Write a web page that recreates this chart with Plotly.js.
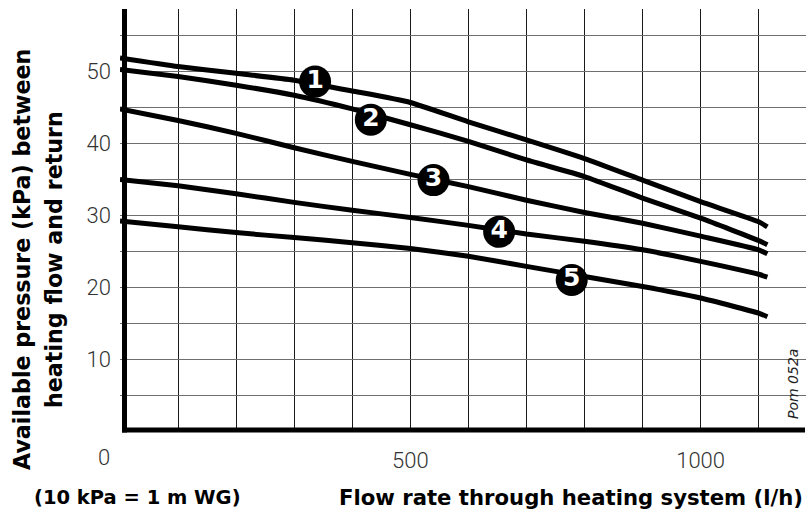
<!DOCTYPE html>
<html>
<head>
<meta charset="utf-8">
<script src="https://cdn.plot.ly/plotly-3.0.1.min.js"></script>
<style>
  html, body { margin: 0; padding: 0; background: #fff; }
  #chart { width: 812px; height: 512px; }
</style>
</head>
<body>
<div id="chart"></div>
<script>
// Flow rate (l/h)
const flow = [0, 100, 200, 300, 400, 500, 600, 700, 800, 900, 1000, 1100, 1115];
// Available pressure (kPa) for pump settings 1..5
const curve1 = [51.9, 50.7, 49.75, 48.8, 47.3, 45.7, 43.0, 40.5, 37.9, 34.9, 31.9, 29.1, 28.4];
const curve2 = [50.3, 49.3, 48.1, 46.7, 44.8, 42.6, 40.3, 37.7, 35.4, 32.4, 29.6, 26.5, 25.9];
const curve3 = [44.8, 43.2, 41.4, 39.4, 37.5, 35.7, 34.0, 32.1, 30.4, 28.9, 27.1, 25.2, 24.65];
const curve4 = [35.0, 34.1, 33.0, 31.8, 30.7, 29.7, 28.6, 27.4, 26.4, 25.2, 23.6, 21.8, 21.4];
const curve5 = [29.2, 28.4, 27.6, 26.9, 26.2, 25.4, 24.3, 22.9, 21.5, 20.1, 18.5, 16.4, 15.9];

// Curve number badges
const labelText = ['1', '2', '3', '4', '5'];
const labelX = [336, 432, 540, 653, 778];
const labelY = [48.6, 43.3, 34.9, 27.7, 21.0];

// Axis ticks
const xTickVals = [100, 200, 300, 400, 500, 600, 700, 800, 900, 1000, 1100];
const xTickText = ['', '', '', '', '500', '', '', '', '', '1000', ''];
const yTickVals = [5, 10, 15, 20, 25, 30, 35, 40, 45, 50, 55];
const yTickText = ['', '10', '', '20', '', '30', '', '40', '', '50', ''];
const originLabel = '0';

const xTitle = 'Flow rate through heating system (l/h)';
const yTitle1 = 'Available pressure (kPa) between';
const yTitle2 = 'heating flow and return';
const unitNote = '(10 kPa = 1 m WG)';
const figCode = 'Pom 052a';

const curves = [curve1, curve2, curve3, curve4, curve5];
const traces = curves.map((c, i) => ({
  type: 'scatter', mode: 'lines', x: flow, y: c,
  line: { color: '#000', width: 5, shape: 'spline', smoothing: 0.5 },
  hoverinfo: 'skip', showlegend: false, cliponaxis: true
}));
traces.push({
  type: 'scatter', mode: 'markers+text', x: labelX, y: labelY, text: labelText,
  textposition: 'middle center',
  textfont: { family: 'DejaVu Sans', size: 25, color: '#fff', weight: 'bold' },
  marker: { symbol: 'circle', size: 32, color: '#000' },
  hoverinfo: 'skip', showlegend: false, cliponaxis: false
});

const W = 686, H = 422; // plot area px
const px2paperX = p => (p - 120) / W;
const px2paperY = p => (431 - p) / H;

const xTitleFont = { family: 'DejaVu Sans', size: 21.2, color: '#000', weight: 'bold' };
const yTitleFont = { family: 'DejaVu Sans', size: 22.2, color: '#000', weight: 'bold' };
const tickFont = { family: 'Roboto', size: 22, color: '#333', weight: 300 };

const layout = {
  width: 812, height: 512,
  margin: { l: 120, r: 6, t: 9, b: 81, pad: 0 },
  paper_bgcolor: '#fff', plot_bgcolor: '#fff',
  showlegend: false,
  xaxis: {
    range: [0, 1181.5], tickmode: 'array', tickvals: xTickVals, ticktext: xTickText,
    showgrid: true, gridcolor: '#1a1a1a', gridwidth: 1, zeroline: false,
    showline: false, ticks: '', ticklabelstandoff: 14,
    tickfont: tickFont, fixedrange: true
  },
  yaxis: {
    range: [0, 58.7], tickmode: 'array', tickvals: yTickVals, ticktext: yTickText,
    showgrid: true, gridcolor: '#6e6e6e', gridwidth: 1, zeroline: false,
    showline: false, ticks: '', ticklabelstandoff: 8,
    tickfont: tickFont, fixedrange: true
  },
  shapes: [
    { type: 'line', xref: 'paper', yref: 'paper', x0: px2paperX(124.5), x1: px2paperX(124.5),
      y0: px2paperY(432.5), y1: px2paperY(9), line: { color: '#000', width: 5 } },
    { type: 'line', xref: 'paper', yref: 'paper', x0: px2paperX(122), x1: px2paperX(805),
      y0: px2paperY(430), y1: px2paperY(430), line: { color: '#000', width: 5 } }
  ],
  annotations: [
    { text: originLabel, xref: 'paper', yref: 'paper', x: px2paperX(103.5), y: px2paperY(457),
      showarrow: false, xanchor: 'center', yanchor: 'middle', font: tickFont },
    { text: yTitle1, xref: 'paper', yref: 'paper', x: px2paperX(22), y: px2paperY(260),
      textangle: -90, showarrow: false, xanchor: 'center', yanchor: 'middle', font: yTitleFont },
    { text: yTitle2, xref: 'paper', yref: 'paper', x: px2paperX(54), y: px2paperY(260),
      textangle: -90, showarrow: false, xanchor: 'center', yanchor: 'middle', font: yTitleFont },
    { text: xTitle, xref: 'paper', yref: 'paper', x: px2paperX(571), y: px2paperY(497),
      showarrow: false, xanchor: 'center', yanchor: 'middle', font: xTitleFont },
    { text: unitNote, xref: 'paper', yref: 'paper', x: px2paperX(137.5), y: px2paperY(497),
      showarrow: false, xanchor: 'center', yanchor: 'middle',
      font: { family: 'DejaVu Sans', size: 19.5, color: '#000', weight: 'bold' } },
    { text: figCode, xref: 'paper', yref: 'paper', x: px2paperX(793), y: px2paperY(384),
      textangle: -90, showarrow: false, xanchor: 'center', yanchor: 'middle',
      font: { family: 'DejaVu Sans', size: 14, color: '#222', style: 'italic', weight: 300 } }
  ]
};

Plotly.newPlot('chart', traces, layout, { staticPlot: true, displayModeBar: false });
</script>
</body>
</html>
